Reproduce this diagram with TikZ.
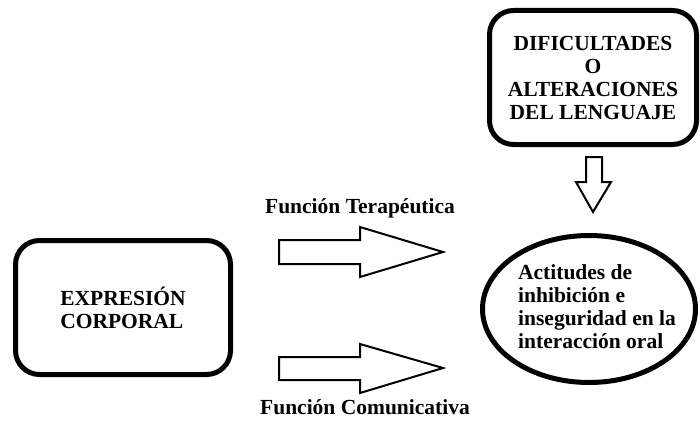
\documentclass[tikz,border=0pt]{standalone}
\usepackage{fontspec}
\setmainfont{Liberation Serif}
\usetikzlibrary{shapes.geometric}

\begin{document}
\begin{tikzpicture}[x=1pt,y=-1pt]
  \tikzstyle{box}=[rectangle,rounded corners=24pt,draw,line width=5pt,inner sep=0pt,font=\bfseries\fontsize{21.5}{23}\selectfont]
  \tikzstyle{oval}=[ellipse,draw,line width=5pt,inner sep=0pt]
  \tikzstyle{blk}=[draw,line width=2pt,fill=white,line join=miter]
  \tikzstyle{lbl}=[inner sep=0pt,font=\bfseries\fontsize{21.5}{23}\selectfont]

  \useasboundingbox (0,0) rectangle (700,428);

  \node[box,minimum width=207pt,minimum height=134pt,align=center] (dif) at (593,77.5)
    {DIFICULTADES\\O\\ALTERACIONES\\DEL LENGUAJE};
  \node[box,minimum width=215pt,minimum height=134pt,align=left] (expr) at (123,307.5)
    {EXPRESIÓN\\CORPORAL};
  \node[oval,minimum width=213pt,minimum height=147pt] (act) at (589,309) {};
  \node[lbl,align=left] (acttxt) at (597,307)
    {Actitudes de\\inhibición e\\inseguridad en la\\interacción oral};

  \node[lbl] (ter) at (360,208) {Función Terapéutica};
  \node[lbl] (com) at (365,407) {Función Comunicativa};

  % block arrows
  \draw[blk] (586,157) -- (602,157) -- (602,182) -- (611,182) -- (593,212)
    -- (576,182) -- (586,182) -- cycle;
  \draw[blk] (279,240) -- (360,240) -- (360,227) -- (443,252) -- (360,277)
    -- (360,264) -- (279,264) -- cycle;
  \draw[blk] (279,357) -- (360,357) -- (360,344) -- (443,368) -- (360,393)
    -- (360,380) -- (279,380) -- cycle;
\end{tikzpicture}
\end{document}
